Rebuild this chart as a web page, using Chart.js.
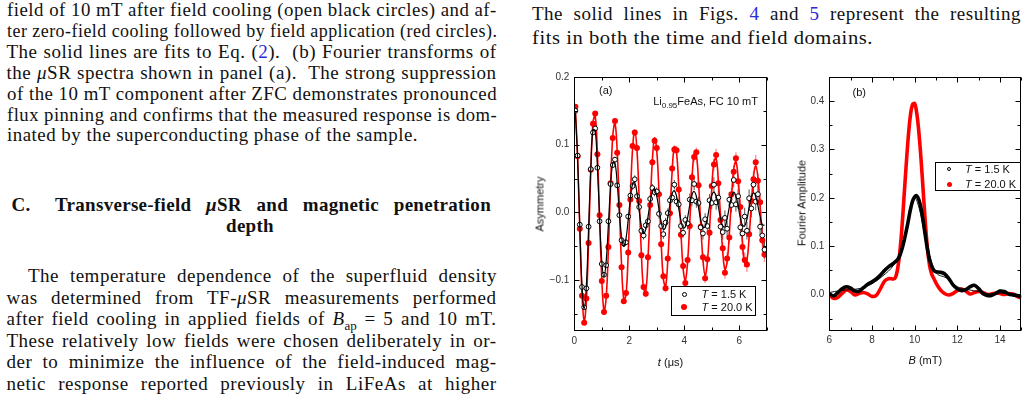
<!DOCTYPE html>
<html>
<head>
<meta charset="utf-8">
<script src="https://cdn.jsdelivr.net/npm/chart.js@4.4.1/dist/chart.umd.min.js"></script>
<style>
html,body{margin:0;padding:0;background:#fff;}
body{width:1028px;height:395px;overflow:hidden;position:relative;}
.t{position:absolute;white-space:nowrap;font-family:"Liberation Serif","Times New Roman",serif;font-size:19px;letter-spacing:0.5px;line-height:21px;color:#111;transform-origin:0 50%;}
.j{text-align:justify;text-align-last:justify;}
.b{font-weight:bold;letter-spacing:0.3px;}
.blue{color:#2b2bd9;}
.lab{position:absolute;white-space:nowrap;font-family:"Liberation Sans",Arial,sans-serif;font-size:11px;line-height:13px;color:#111;z-index:3;}
.wrap{position:absolute;}
.leg{position:absolute;border:1px solid #000;background:#fff;z-index:2;box-sizing:border-box;}
.dot{position:absolute;border-radius:50%;box-sizing:border-box;z-index:3;}
</style>
</head>
<body>
<!-- left column text -->
<div class="t j" style="left:6.5px;width:490px;top:-0.7px">field of 10 mT after field cooling (open black circles) and af-</div>
<div class="t j" style="left:6.5px;width:490px;top:19.9px">ter zero-field cooling followed by field application (red circles).</div>
<div class="t j" style="left:6.5px;width:490px;top:40.9px">The solid lines are fits to Eq. (<span class="blue">2</span>).&nbsp; (b) Fourier transforms of</div>
<div class="t j" style="left:6.5px;width:490px;top:61.6px">the <i>μ</i>SR spectra shown in panel (a).&nbsp; The strong suppression</div>
<div class="t j" style="left:6.5px;width:490px;top:82.6px">of the 10 mT component after ZFC demonstrates pronounced</div>
<div class="t j" style="left:6.5px;width:490px;top:103.6px">flux pinning and confirms that the measured response is dom-</div>
<div class="t s" data-w="411" style="left:6.5px;top:124.3px">inated by the superconducting phase of the sample.</div>

<div class="t b" style="left:11.5px;top:193.6px">C.</div>
<div class="t b j" style="left:55px;width:436px;top:193.6px">Transverse-field <i>μ</i>SR and magnetic penetration</div>
<div class="t b" style="left:0;width:500px;text-align:center;top:214.6px">depth</div>

<div class="t j" style="left:28px;width:469px;top:265.1px">The temperature dependence of the superfluid density</div>
<div class="t j" style="left:6.5px;width:490px;top:286.6px">was determined from TF-<i>μ</i>SR measurements performed</div>
<div class="t j" style="left:6.5px;width:490px;top:308.1px">after field cooling in applied fields of <i>B</i><sub style="font-size:13px;line-height:0;letter-spacing:0">ap</sub> = 5 and 10 mT.</div>
<div class="t j" style="left:6.5px;width:490px;top:329.6px">These relatively low fields were chosen deliberately in or-</div>
<div class="t j" style="left:6.5px;width:490px;top:351.1px">der to minimize the influence of the field-induced mag-</div>
<div class="t j" style="left:6.5px;width:490px;top:372.6px">netic response reported previously in LiFeAs at higher</div>

<!-- right column text -->
<div class="t j" style="left:532px;width:489px;top:2.6px">The solid lines in Figs. <span class="blue">4</span> and <span class="blue">5</span> represent the resulting</div>
<div class="t s" data-w="341" style="left:532px;top:26.9px">fits in both the time and field domains.</div>

<!-- panel (a) -->
<div class="wrap" style="left:520px;top:66px;width:255px;height:314px"><canvas id="ca"></canvas></div>
<div class="lab" style="left:599px;top:83.5px">(a)</div>
<div class="lab" style="right:270px;top:94.5px">Li<sub style="font-size:8px;line-height:0">0.95</sub>FeAs, FC 10 mT</div>
<div class="lab" style="left:540px;top:204px;transform:translate(-50%,-50%) rotate(-90deg)">Asymmetry</div>
<div class="lab" style="left:670.5px;top:361.5px;transform:translate(-50%,-50%)"><i>t</i> (μs)</div>
<div class="leg" style="left:670.5px;top:286px;width:85px;height:30px"></div>
<div class="dot" style="left:681.8px;top:291.8px;width:5px;height:5px;border:1px solid #000;background:#fff"></div>
<div class="dot" style="left:681.3px;top:304.3px;width:6px;height:6px;background:#f00"></div>
<div class="lab" style="left:701.5px;top:288px"><i>T</i> = 1.5 K</div>
<div class="lab" style="left:701.5px;top:301px"><i>T</i> = 20.0 K</div>

<!-- panel (b) -->
<div class="wrap" style="left:780px;top:66px;width:248px;height:314px"><canvas id="cb"></canvas></div>
<div class="lab" style="left:852.5px;top:85.5px">(b)</div>
<div class="lab" style="left:802px;top:203px;transform:translate(-50%,-50%) rotate(-90deg)">Fourier Amplitude</div>
<div class="lab" style="left:925.3px;top:359.5px;transform:translate(-50%,-50%)"><i>B</i> (mT)</div>
<div class="leg" style="left:935px;top:162px;width:86px;height:29px"></div>
<div class="dot" style="left:947.3px;top:167px;width:4px;height:4px;border:1px solid #000;background:#fff"></div>
<div class="dot" style="left:947px;top:182px;width:5px;height:5px;background:#f00"></div>
<div class="lab" style="left:965px;top:162.5px"><i>T</i> = 1.5 K</div>
<div class="lab" style="left:965px;top:177.5px"><i>T</i> = 20.0 K</div>

<script>
// ---------- panel (a): time domain ----------
const timeUs = [
 0.04,0.12,0.20,0.28,0.36,0.44,0.52,0.60,0.68,0.76,
 0.84,0.92,1.00,1.08,1.16,1.24,1.32,1.40,1.48,1.56,
 1.64,1.72,1.80,1.88,1.96,2.04,2.12,2.20,2.28,2.36,
 2.44,2.52,2.60,2.68,2.76,2.84,2.92,3.00,3.08,3.16,
 3.24,3.32,3.40,3.48,3.56,3.64,3.72,3.80,3.88,3.96,
 4.04,4.12,4.20,4.28,4.36,4.44,4.52,4.60,4.68,4.76,
 4.84,4.92,5.00,5.08,5.16,5.24,5.32,5.40,5.48,5.56,
 5.64,5.72,5.80,5.88,5.96,6.04,6.12,6.20,6.28,6.36,
 6.44,6.52,6.60,6.68,6.76,6.84,6.92];

const asym20K = [
 0.156,0.083,-0.024,-0.123,-0.163,-0.127,-0.045,0.063,0.131,0.146,
 0.086,-0.004,-0.101,-0.147,-0.123,-0.051,0.043,0.110,0.135,0.088,
 0.011,-0.081,-0.131,-0.119,-0.059,0.019,0.098,0.118,0.095,0.017,
 -0.063,-0.110,-0.120,-0.066,0.011,0.074,0.106,0.095,0.027,-0.047,
 -0.094,-0.112,-0.068,-0.001,0.065,0.093,0.092,0.034,-0.033,-0.079,
 -0.104,-0.070,-0.020,0.052,0.082,0.089,0.040,-0.021,-0.066,-0.097,
 -0.069,-0.030,0.039,0.071,0.085,0.043,-0.011,-0.053,-0.089,-0.068,
 -0.037,0.027,0.060,0.080,0.046,0.008,-0.051,-0.070,-0.077,-0.032,
 0.017,0.049,0.074,0.047,0.015,-0.041,-0.062];

const err20K = [
 0.003,0.003,0.003,0.003,0.003,0.003,0.003,0.003,0.003,0.003,
 0.003,0.003,0.003,0.004,0.004,0.004,0.004,0.004,0.004,0.004,
 0.004,0.004,0.004,0.004,0.004,0.004,0.005,0.005,0.005,0.005,
 0.005,0.005,0.005,0.005,0.005,0.005,0.005,0.005,0.006,0.006,
 0.006,0.006,0.006,0.006,0.006,0.006,0.006,0.006,0.006,0.006,
 0.006,0.007,0.007,0.007,0.007,0.007,0.007,0.007,0.007,0.007,
 0.007,0.007,0.007,0.009,0.009,0.009,0.009,0.009,0.009,0.009,
 0.009,0.009,0.009,0.009,0.009,0.011,0.011,0.011,0.011,0.011,
 0.011,0.011,0.011,0.011,0.011,0.011,0.011];

const fit20K = [
 0.152,0.081,-0.026,-0.120,-0.160,-0.129,-0.042,0.061,0.133,0.143,
 0.088,-0.007,-0.098,-0.145,-0.126,-0.054,0.040,0.113,0.132,0.091,
 0.008,-0.078,-0.128,-0.122,-0.062,0.022,0.094,0.121,0.092,0.021,
 -0.060,-0.113,-0.116,-0.069,0.007,0.077,0.110,0.091,0.031,-0.043,
 -0.098,-0.109,-0.072,-0.005,0.061,0.097,0.088,0.038,-0.029,-0.083,
 -0.100,-0.074,-0.016,0.047,0.086,0.085,0.044,-0.017,-0.070,-0.093,
 -0.074,-0.025,0.034,0.075,0.080,0.048,-0.006,-0.058,-0.084,-0.073,
 -0.032,0.022,0.064,0.075,0.051,0.003,-0.046,-0.075,-0.071,-0.037,
 0.012,0.053,0.069,0.052,0.010,-0.036,-0.067];

const asym15K = [
 0.150,0.084,-0.018,-0.110,-0.140,-0.112,-0.021,0.064,0.118,0.124,
 0.066,-0.013,-0.076,-0.092,-0.078,-0.013,0.042,0.070,0.078,0.040,
 -0.004,-0.041,-0.046,-0.044,-0.006,0.025,0.039,0.049,0.024,0.008,
 -0.027,-0.034,-0.019,-0.013,0.020,0.036,0.030,0.031,-0.002,-0.020,
 -0.032,-0.015,-0.001,0.018,0.022,0.041,0.016,0.012,-0.020,-0.030,
 -0.011,-0.016,0.019,0.018,0.042,0.016,0.014,-0.022,-0.031,-0.010,
 -0.020,0.018,0.014,0.041,0.015,0.022,-0.021,-0.029,-0.008,-0.024,
 0.019,0.011,0.048,0.012,0.024,-0.022,-0.031,-0.006,-0.027,0.021,
 0.006,0.041,0.016,0.027,-0.021,-0.034,-0.055];

const err15K = [
 0.003,0.003,0.003,0.003,0.003,0.003,0.003,0.003,0.003,0.003,
 0.003,0.003,0.003,0.004,0.004,0.004,0.004,0.004,0.004,0.004,
 0.004,0.004,0.004,0.004,0.004,0.004,0.006,0.006,0.006,0.006,
 0.006,0.006,0.006,0.006,0.006,0.006,0.006,0.006,0.007,0.007,
 0.007,0.007,0.007,0.007,0.007,0.007,0.007,0.007,0.007,0.007,
 0.007,0.009,0.009,0.009,0.009,0.009,0.009,0.009,0.009,0.009,
 0.009,0.009,0.009,0.011,0.011,0.011,0.011,0.011,0.011,0.011,
 0.011,0.011,0.011,0.011,0.011,0.013,0.013,0.013,0.013,0.013,
 0.013,0.013,0.013,0.013,0.013,0.013,0.013];

const fit15K = [
 0.148,0.081,-0.020,-0.108,-0.142,-0.107,-0.024,0.066,0.122,0.121,
 0.068,-0.009,-0.072,-0.095,-0.072,-0.018,0.039,0.073,0.073,0.043,
 0.000,-0.036,-0.050,-0.039,-0.011,0.021,0.042,0.044,0.029,0.003,
 -0.020,-0.031,-0.025,-0.007,0.015,0.031,0.035,0.024,0.005,-0.014,
 -0.025,-0.022,-0.007,0.012,0.028,0.032,0.024,0.006,-0.012,-0.023,
 -0.021,-0.008,0.011,0.026,0.031,0.024,0.007,-0.011,-0.022,-0.021,
 -0.009,0.009,0.025,0.030,0.024,0.009,-0.009,-0.020,-0.021,-0.009,
 0.008,0.023,0.030,0.024,0.010,-0.008,-0.019,-0.020,-0.010,0.007,
 0.022,0.029,0.024,0.010,-0.006,-0.018,-0.019];

const tTicksMajor = [0,2,4,6];
const tTicksMinor = [1,3,5,7];
const aTicksMajor = [-0.1,0,0.1,0.2];
const aTicksMinor = [-0.15,-0.05,0.05,0.15];

// ---------- panel (b): field domain ----------
const fieldB = [
 6.0,6.2,6.4,6.6,6.8,7.0,7.2,7.4,7.6,7.8,8.0,8.2,8.4,8.6,8.8,
 9.0,9.1,9.2,9.3,9.4,9.5,9.6,9.7,9.8,9.9,10.0,10.1,10.2,10.3,10.4,10.5,10.6,10.7,10.8,10.9,11.0,
 11.2,11.4,11.6,11.8,12.0,12.2,12.4,12.6,12.8,13.0,13.2,13.4,13.6,13.8,14.0,14.2,14.4,14.6,14.8,15.0];

const four20K = [
 0.000,-0.008,-0.006,0.002,0.009,0.006,-0.001,0.002,0.004,0.001,-0.004,-0.002,0.012,0.028,0.033,
 0.032,0.035,0.052,0.085,0.135,0.200,0.265,0.325,0.370,0.393,0.395,0.375,0.335,0.280,0.215,0.150,0.095,0.060,0.042,0.033,0.024,
 0.010,0.002,-0.001,0.002,0.008,0.011,0.007,0.001,0.004,0.006,0.004,0.000,0.001,0.003,0.002,0.000,0.002,0.001,-0.004,-0.008];

const four15K = [
 0.002,-0.003,0.004,0.012,0.016,0.013,0.007,0.007,0.014,0.021,0.026,0.032,0.040,0.050,0.058,
 0.064,0.068,0.072,0.080,0.093,0.110,0.130,0.152,0.175,0.193,0.202,0.204,0.196,0.178,0.152,0.122,0.094,0.072,0.058,0.050,0.047,
 0.046,0.043,0.033,0.020,0.012,0.008,0.010,0.016,0.019,0.012,0.002,-0.002,-0.002,0.002,0.007,0.006,0.001,-0.001,-0.002,-0.005];

const fitFieldB = [6.0,6.5,7.0,7.5,8.0,8.5,9.0,9.5,9.75,10.0,10.25,10.5,11.0,11.5,12.0,12.5,13.0,13.5,14.0,14.5,15.0];
const fourFit15K = [0.004,0.008,0.010,0.013,0.022,0.038,0.060,0.108,0.160,0.200,0.172,0.118,0.045,0.034,0.016,0.010,0.006,0.001,0.003,0.000,-0.004];

const bTicksMajor = [6,8,10,12,14];
const bTicksMinor = [7,9,11,13,15];
const fTicksMajor = [0,0.1,0.2,0.3,0.4];
const fTicksMinor = [-0.05,0.05,0.15,0.25,0.35,0.45];

// ---------- helpers ----------
Chart.defaults.font.family = '"Liberation Sans", Arial, sans-serif';
Chart.defaults.font.size = 10;
Chart.defaults.color = '#333';

const pts = (xs, ys) => xs.map((x, i) => ({x: x, y: ys[i]}));
const fmtY = v => (Math.abs(v) < 1e-9 ? '0.0' : v.toFixed(1)).replace('-', '\u2212');

const framePlugin = {
  id: 'frame',
  beforeDatasetsDraw(chart, args, o) {
    if (!o.errors) return;
    const {ctx, chartArea: a, scales: {x, y}} = chart;
    ctx.save();
    ctx.beginPath(); ctx.rect(a.left, a.top, a.right - a.left, a.bottom - a.top); ctx.clip();
    o.errors.forEach(e => {
      ctx.strokeStyle = e.color; ctx.lineWidth = e.width;
      ctx.beginPath();
      e.xs.forEach((xv, i) => {
        const px = x.getPixelForValue(xv);
        ctx.moveTo(px, y.getPixelForValue(e.ys[i] - e.es[i]));
        ctx.lineTo(px, y.getPixelForValue(e.ys[i] + e.es[i]));
      });
      ctx.stroke();
    });
    ctx.restore();
  },
  afterDatasetsDraw(chart, args, o) {
    const {ctx, chartArea: a, scales: {x, y}} = chart;
    const L = Math.round(a.left) + 0.5, R = Math.round(a.right) - 0.5;
    const T = Math.round(a.top) + 0.5, B = Math.round(a.bottom) - 0.5;
    ctx.save();
    ctx.strokeStyle = '#000'; ctx.lineWidth = 1;
    ctx.strokeRect(L, T, R - L, B - T);
    ctx.beginPath();
    const xt = (vals, len) => vals.forEach(v => {
      const p = Math.round(x.getPixelForValue(v)) + 0.5;
      ctx.moveTo(p, B); ctx.lineTo(p, B - len);
      ctx.moveTo(p, T); ctx.lineTo(p, T + len);
    });
    const yt = (vals, len) => vals.forEach(v => {
      const p = Math.round(y.getPixelForValue(v)) + 0.5;
      ctx.moveTo(L, p); ctx.lineTo(L + len, p);
      ctx.moveTo(R, p); ctx.lineTo(R - len, p);
    });
    xt(o.xMajor, 5); xt(o.xMinor, 3); yt(o.yMajor, 5); yt(o.yMinor, 3);
    ctx.stroke();
    ctx.restore();
  }
};

function axes(xMin, xMax, xMajor, yMin, yMax, yMajor, yWidth, xHeight) {
  return {
    x: {type: 'linear', min: xMin, max: xMax,
        afterBuildTicks: s => { s.ticks = xMajor.map(v => ({value: v})); },
        afterFit: s => { s.height = xHeight; },
        grid: {display: false, drawTicks: false}, border: {display: false},
        ticks: {padding: 4, maxRotation: 0, autoSkip: false, color: '#333', callback: v => String(v)}},
    y: {type: 'linear', min: yMin, max: yMax,
        afterBuildTicks: s => { s.ticks = yMajor.map(v => ({value: v})); },
        afterFit: s => { s.width = yWidth; },
        grid: {display: false, drawTicks: false}, border: {display: false},
        ticks: {padding: 5, autoSkip: false, color: '#333', callback: v => fmtY(v)}}
  };
}

new Chart(document.getElementById('ca'), {
  type: 'scatter',
  data: {datasets: [
    {label: 'T = 1.5 K fit', data: pts(timeUs, fit15K), showLine: true, borderColor: '#000', borderWidth: 1.2, pointRadius: 0, tension: 0.4},
    {label: 'T = 1.5 K', data: pts(timeUs, asym15K), showLine: false, pointRadius: 2.4, pointBorderWidth: 1, borderColor: '#000', backgroundColor: '#fff'},
    {label: 'T = 20.0 K fit', data: pts(timeUs, fit20K), showLine: true, borderColor: '#ff0000', borderWidth: 1.6, pointRadius: 0, tension: 0.4},
    {label: 'T = 20.0 K', data: pts(timeUs, asym20K), showLine: false, pointRadius: 3, pointBorderWidth: 0, borderColor: '#ff0000', backgroundColor: '#ff0000'}
  ]},
  options: {
    responsive: true, maintainAspectRatio: false, animation: false,
    layout: {padding: {top: 10, right: 8.3, bottom: 0, left: 0}},
    scales: axes(0, 7, tTicksMajor, -0.175, 0.2, aTicksMajor, 54.3, 49),
    plugins: {legend: {display: false}, tooltip: {enabled: false},
      frame: {xMajor: tTicksMajor, xMinor: tTicksMinor, yMajor: aTicksMajor, yMinor: aTicksMinor,
        errors: [
          {xs: timeUs, ys: asym15K, es: err15K, color: '#555', width: 1},
          {xs: timeUs, ys: asym20K, es: err20K, color: 'rgba(255,60,60,0.55)', width: 1.4}
        ]}}
  },
  plugins: [framePlugin]
});

new Chart(document.getElementById('cb'), {
  type: 'scatter',
  data: {datasets: [
    {label: 'T = 1.5 K', data: pts(fieldB, four15K), showLine: true, borderColor: '#000', borderWidth: 3.6, pointRadius: 0, tension: 0.35},
    {label: 'T = 1.5 K fit', data: pts(fitFieldB, fourFit15K), showLine: true, borderColor: '#000', borderWidth: 0.9, pointRadius: 0, tension: 0.35},
    {label: 'T = 20.0 K', data: pts(fieldB, four20K), showLine: true, borderColor: '#ff0000', borderWidth: 3.6, pointRadius: 0, tension: 0.35}
  ]},
  options: {
    responsive: true, maintainAspectRatio: false, animation: false,
    layout: {padding: {top: 10, right: 6.7, bottom: 0, left: 0}},
    scales: axes(6, 15, bTicksMajor, -0.075, 0.45, fTicksMajor, 49.3, 49.3),
    plugins: {legend: {display: false}, tooltip: {enabled: false},
      frame: {xMajor: bTicksMajor, xMinor: bTicksMinor, yMajor: fTicksMajor, yMinor: fTicksMinor}}
  },
  plugins: [framePlugin]
});

// squeeze any justified text line that is wider than its column
document.querySelectorAll('.t.j').forEach(el => {
  const w = el.clientWidth, sw = el.scrollWidth;
  if (sw > w + 0.5) el.style.transform = 'scaleX(' + (w / sw) + ')';
});
// fit free-running last lines to the measured width of the page
document.querySelectorAll('.t.s').forEach(el => {
  const target = parseFloat(el.dataset.w), w = el.getBoundingClientRect().width;
  if (w > 0) el.style.transform = 'scaleX(' + (target / w) + ')';
});
</script>
</body>
</html>
